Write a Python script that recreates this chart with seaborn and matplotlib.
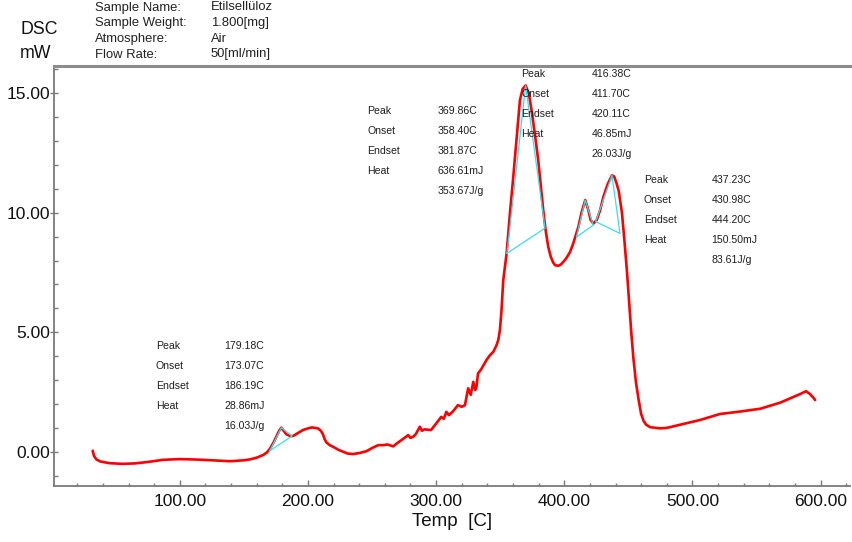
import matplotlib
matplotlib.use("Agg")
import matplotlib.pyplot as plt
from matplotlib.ticker import MultipleLocator, FixedLocator, FormatStrFormatter
import pandas as pd
import seaborn as sns

# DSC trace of ethyl cellulose heated in air: temperature [C] and heat flow [mW]
temp = [32.0, 33.0, 35.0, 38.0, 45.0, 55.0, 65.0, 75.0, 87.0, 100.0, 113.0, 125.0,
        139.0, 150.0, 155.0, 160.0, 165.0, 168.0, 170.3, 173.0, 175.5, 177.5, 179.18,
        181.0, 183.0, 186.0, 188.3, 192.0, 196.0, 200.0, 203.0, 207.8, 210.0, 211.5,
        213.0, 214.3, 217.0, 220.0, 224.0, 227.3, 231.0, 235.0, 240.0, 245.7, 250.0,
        254.8, 258.7, 262.0, 266.5, 270.0, 274.0, 278.2, 280.0, 282.0, 284.0, 287.3,
        289.0, 291.0, 296.0, 300.0, 304.0, 306.0, 308.0, 310.0, 313.0, 317.0, 320.0,
        322.5, 324.0, 325.0, 327.0, 329.0, 330.5, 331.5, 332.7, 335.0, 339.3, 342.0,
        344.6, 347.0, 348.5, 349.8, 351.0, 352.4, 355.0, 357.5, 360.2, 363.0, 365.4,
        367.5, 369.86, 372.4, 374.5, 377.0, 379.7, 381.5, 383.6, 385.5, 387.5, 389.5,
        391.5, 393.0, 395.5, 397.5, 399.2, 401.0, 404.5, 407.0, 411.0, 413.5, 416.38,
        418.8, 420.5, 422.7, 425.3, 428.0, 430.5, 434.0, 437.23, 439.0, 440.9, 442.5,
        445.0, 447.0, 449.0, 451.0, 452.3, 454.0, 456.0, 458.0, 460.0, 462.0, 464.0,
        467.0, 474.7, 480.0, 490.3, 506.0, 521.5, 537.0, 545.0, 553.0, 568.4, 584.0,
        588.7, 591.8, 594.4, 595.8]
heat_flow = [0.07, -0.15, -0.30, -0.38, -0.45, -0.48, -0.46, -0.40, -0.31, -0.28, -0.30, -0.33,
             -0.37, -0.33, -0.29, -0.22, -0.11, 0.00, 0.15, 0.40, 0.68, 0.90, 1.03,
             0.90, 0.76, 0.68, 0.68, 0.80, 0.93, 1.00, 1.04, 1.00, 0.90, 0.78,
             0.55, 0.42, 0.30, 0.22, 0.10, 0.03, -0.05, -0.07, -0.03, 0.05, 0.18,
             0.30, 0.30, 0.33, 0.25, 0.40, 0.55, 0.72, 0.60, 0.65, 0.75, 1.07,
             0.90, 0.96, 0.93, 1.20, 1.48, 1.40, 1.69, 1.55, 1.70, 1.97, 1.90,
             1.97, 2.40, 2.67, 2.40, 2.94, 2.60, 2.73, 3.29, 3.45, 3.85, 4.05,
             4.19, 4.45, 4.68, 5.10, 5.90, 7.18, 8.29, 9.90, 11.48, 13.20, 14.68,
             15.15, 15.30, 14.95, 14.26, 13.30, 12.18, 11.20, 10.10, 9.25, 8.57, 8.15,
             7.90, 7.80, 7.78, 7.84, 7.94, 8.05, 8.35, 8.71, 9.40, 10.00, 10.52,
             10.10, 9.70, 9.54, 9.68, 10.10, 10.65, 11.20, 11.55, 11.50, 11.20, 10.90,
             10.00, 8.80, 7.50, 6.00, 5.00, 3.90, 2.90, 2.20, 1.60, 1.30, 1.15,
             1.05, 1.00, 1.02, 1.15, 1.35, 1.60, 1.70, 1.76, 1.82, 2.07, 2.43,
             2.55, 2.43, 2.28, 2.18]

# Peak analysis results
peak_c = [179.18, 369.86, 416.38, 437.23]
onset_c = [173.07, 358.40, 411.70, 430.98]
endset_c = [186.19, 381.87, 420.11, 444.20]
heat_mj = [28.86, 636.61, 46.85, 150.50]
heat_jg = [16.03, 353.67, 26.03, 83.61]
peak_mw = [1.03, 15.30, 10.52, 11.55]

# Integration baselines: (start, end) of each peak baseline
base_start_c = [170.3, 355.3, 409.5, 424.5]
base_start_mw = [0.07, 8.30, 8.98, 9.62]
base_end_c = [187.6, 385.0, 422.6, 443.5]
base_end_mw = [0.68, 9.35, 9.47, 9.13]

# Sample information block
info_labels = ["Sample Name:", "Sample Weight:", "Atmosphere:", "Flow Rate:"]
info_values = ["Etilsellüloz", "1.800[mg]", "Air", "50[ml/min]"]

sns.set_style("white")
plt.rcParams["font.family"] = ["Liberation Sans", "DejaVu Sans"]

W, H = 852, 542
fig = plt.figure(figsize=(W / 100, H / 100), dpi=100)
ax = fig.add_axes([54 / W, 1 - 485.7 / H, (850 - 54) / W, (485.7 - 66) / H])

df = pd.DataFrame({"Temp": temp, "DSC": heat_flow})
sns.lineplot(data=df, x="Temp", y="DSC", ax=ax, color="#ff0000", linewidth=1.9,
             sort=False, estimator=None, zorder=3)

# Tangent triangles of the integrated peaks
for i in range(len(peak_c)):
    xs = [base_start_c[i], peak_c[i], base_end_c[i], base_start_c[i]]
    ys = [base_start_mw[i], peak_mw[i], base_end_mw[i], base_start_mw[i]]
    ax.plot(xs, ys, color="#33e0f0", linewidth=0.9, zorder=4)

ax.set_xlim(1.8, 623)
ax.set_ylim(-1.39, 16.11)
ax.xaxis.set_major_locator(FixedLocator([100, 200, 300, 400, 500, 600]))
ax.xaxis.set_minor_locator(MultipleLocator(20))
ax.yaxis.set_major_locator(FixedLocator([0, 5, 10, 15]))
ax.yaxis.set_minor_locator(MultipleLocator(1))
ax.xaxis.set_major_formatter(FormatStrFormatter("%.2f"))
ax.yaxis.set_major_formatter(FormatStrFormatter("%.2f"))

grey = "#7a7a7a"
ax.tick_params(which="both", bottom=True, left=True, top=False, right=False)
ax.tick_params(axis="x", which="major", direction="in", length=4, width=1, color=grey,
               labelsize=12.5, pad=6, labelcolor="#111111")
ax.tick_params(axis="x", which="minor", direction="in", length=2.5, width=1, color=grey)
ax.tick_params(axis="y", which="major", direction="inout", length=6, width=1, color=grey,
               labelsize=12.5, pad=0, labelcolor="#111111")
ax.tick_params(axis="y", which="minor", direction="in", length=3, width=1, color=grey)

for side in ["left", "bottom"]:
    ax.spines[side].set_color(grey)
    ax.spines[side].set_linewidth(1.3)
ax.spines["top"].set_color("#8c8c8c")
ax.spines["top"].set_linewidth(2.2)
ax.spines["right"].set_visible(False)

ax.set_xlabel("Temp  [C]", fontsize=13.5, labelpad=3, color="#111111")
ax.set_ylabel("")

# Result blocks next to each peak (label column x, value column x, first row y)
label_x = [81.3, 246.2, 366.7, 462.2]
value_x = [134.6, 300.9, 421.4, 515.0]
first_row = [4.43, 14.23, 15.76, 11.35]
row_step = 0.833
txt = dict(fontsize=7.6, color="#1e1e1e", va="center", ha="left", zorder=5)
for i in range(len(peak_c)):
    names = ["Peak", "Onset", "Endset", "Heat"]
    vals = [f"{peak_c[i]:.2f}C", f"{onset_c[i]:.2f}C", f"{endset_c[i]:.2f}C",
            f"{heat_mj[i]:.2f}mJ", f"{heat_jg[i]:.2f}J/g"]
    for r, n in enumerate(names):
        ax.text(label_x[i], first_row[i] - r * row_step, n, **txt)
    for r, v in enumerate(vals):
        ax.text(value_x[i], first_row[i] - r * row_step, v, **txt)

# Header: axis title and sample information
fig.text(21 / W, 1 - 29 / H, "DSC", fontsize=12.8, va="center", ha="left", color="#111111")
fig.text(20 / W, 1 - 54 / H, "mW", fontsize=12.8, va="center", ha="left", color="#111111")
rows_y = [7.5, 23.3, 39.0, 54.5]
for lab, val, yy in zip(info_labels, info_values, rows_y):
    fig.text(95 / W, 1 - yy / H, lab, fontsize=9.4, va="center", ha="left", color="#222222")
    fig.text(211 / W, 1 - yy / H, val, fontsize=9.4, va="center", ha="left", color="#222222")

fig.savefig("out.png", dpi=100, facecolor="white")
